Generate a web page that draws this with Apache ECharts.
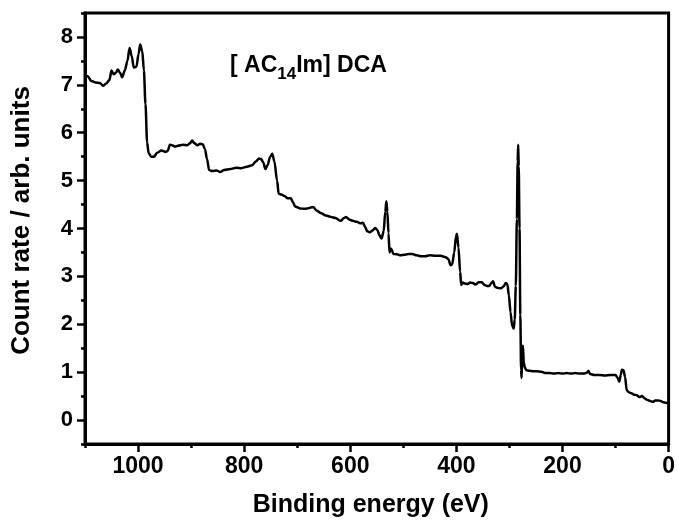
<!DOCTYPE html>
<html>
<head>
<meta charset="utf-8">
<title>XPS survey spectrum</title>
<script src="https://cdn.jsdelivr.net/npm/echarts@6/dist/echarts.min.js"></script>
<style>
  html, body { margin: 0; padding: 0; background: #fff; }
  #chart { width: 678px; height: 523px; }
</style>
</head>
<body>
<div id="chart"></div>
<script>
// Survey spectrum: binding energy (eV) and count rate (arb. units)
const energy = [
  1100, 1095, 1088, 1080, 1072, 1066, 1060, 1054, 1050, 1046, 1042, 1038, 1034, 1030, 1025, 1020,
  1016, 1012, 1008, 1003, 999, 996, 992, 989, 986, 983, 980, 975, 970, 964, 956, 948,
  944, 940, 936, 930, 925, 915, 907, 902, 898, 894, 888, 883, 878, 874, 870, 866,
  860, 852, 845, 838, 826, 815, 805, 795, 785, 778, 772, 768, 764, 760, 756, 751,
  747, 743, 738, 735, 730, 724, 718, 712, 708, 704, 695, 685, 677, 670, 663, 655,
  646, 636, 628, 618, 612, 608, 602, 595, 588, 580, 576, 572, 568, 563, 558, 553,
  549, 545, 541, 537, 534, 532, 530, 528, 526, 524, 522, 519, 512, 505, 498, 490,
  483, 475, 467, 459, 450, 440, 430, 420, 415, 411, 408, 404, 401, 399, 396, 393,
  391, 388, 384, 379, 374, 369, 364, 358, 352, 347, 342, 338, 334, 331, 327, 322,
  316, 311, 307, 304, 301, 298, 295, 292, 290, 288, 286, 284.5, 283.5, 282.5, 281, 279.5,
  278, 277, 275.5, 274.5, 273, 271, 268, 262, 255, 248, 240, 232, 224, 216, 208, 200,
  192, 184, 176, 168, 160, 154, 151, 148, 140, 130, 120, 110, 100, 96, 93, 90,
  88, 85, 82, 79, 75, 70, 65, 60, 55, 50, 45, 40, 35, 30, 25, 20,
  15, 10, 5, 0
];
const countRate = [
  7.20, 7.18, 7.08, 7.05, 7.04, 6.98, 7.03, 7.10, 7.30, 7.22, 7.25, 7.32, 7.25, 7.16, 7.30, 7.50,
  7.77, 7.60, 7.36, 7.38, 7.65, 7.84, 7.70, 7.30, 6.60, 5.80, 5.57, 5.50, 5.50, 5.58, 5.63, 5.60,
  5.62, 5.75, 5.74, 5.71, 5.73, 5.75, 5.74, 5.78, 5.84, 5.78, 5.74, 5.77, 5.76, 5.66, 5.45, 5.22,
  5.20, 5.21, 5.18, 5.22, 5.24, 5.27, 5.26, 5.29, 5.32, 5.40, 5.46, 5.45, 5.38, 5.24, 5.32, 5.50,
  5.56, 5.40, 5.00, 4.73, 4.71, 4.68, 4.63, 4.63, 4.55, 4.46, 4.42, 4.41, 4.43, 4.45, 4.37, 4.32,
  4.27, 4.24, 4.22, 4.16, 4.22, 4.24, 4.19, 4.16, 4.14, 4.11, 4.12, 4.03, 3.94, 3.92, 3.96, 4.01,
  3.97, 3.86, 3.79, 3.95, 4.35, 4.57, 4.35, 3.90, 3.50, 3.58, 3.56, 3.47, 3.46, 3.44, 3.45, 3.47,
  3.47, 3.44, 3.42, 3.42, 3.44, 3.43, 3.43, 3.40, 3.36, 3.23, 3.25, 3.50, 3.82, 3.89, 3.60, 3.10,
  2.82, 2.87, 2.85, 2.84, 2.87, 2.86, 2.83, 2.88, 2.88, 2.82, 2.80, 2.80, 2.86, 2.90, 2.78, 2.76,
  2.75, 2.79, 2.86, 2.84, 2.60, 2.25, 1.98, 1.91, 2.10, 2.80, 4.20, 5.40, 5.75, 5.30, 4.00, 2.20,
  1.05, 0.88, 1.50, 1.55, 1.20, 1.10, 1.04, 1.03, 1.02, 1.02, 1.01, 0.98, 0.98, 0.97, 0.98, 0.97,
  0.98, 0.97, 0.98, 0.97, 0.97, 0.99, 1.03, 0.96, 0.94, 0.94, 0.93, 0.94, 0.94, 0.88, 0.80, 0.95,
  1.05, 1.04, 0.90, 0.62, 0.58, 0.56, 0.53, 0.52, 0.48, 0.50, 0.45, 0.42, 0.40, 0.38, 0.41, 0.41,
  0.40, 0.37, 0.36, 0.35
];
const xMajorTicks = [0, 200, 400, 600, 800, 1000];
const xMinorTicks = [100, 300, 500, 700, 900, 1100];
const yMajorTicks = [0, 1, 2, 3, 4, 5, 6, 7, 8];
const yMinorTicks = [-0.5, 0.5, 1.5, 2.5, 3.5, 4.5, 5.5, 6.5, 7.5, 8.5];

const FONT = '"Liberation Sans", Arial, Helvetica, sans-serif';
const points = energy.map((e, i) => [e, countRate[i]]);
const plain = v => String(v);

const chart = echarts.init(document.getElementById('chart'), null, { renderer: 'canvas' });

const xBase = { type: 'value', min: 0, max: 1100, inverse: true, position: 'bottom', splitLine: { show: false } };
const yBase = { type: 'value', min: -0.5, max: 8.5, position: 'left', splitLine: { show: false } };

chart.setOption({
  animation: false,
  backgroundColor: '#fff',
  title: {
    text: '{a|[ AC}{s|14}{a|Im] DCA}',
    left: 230,
    top: 49,
    padding: 0,
    textStyle: {
      rich: {
        a: { fontFamily: FONT, fontSize: 23, fontWeight: 'bold', color: '#000', lineHeight: 34, verticalAlign: 'middle' },
        s: { fontFamily: FONT, fontSize: 17, fontWeight: 'bold', color: '#000', lineHeight: 17, verticalAlign: 'bottom' }
      }
    }
  },
  grid: {
    left: 85, right: 6, top: 13, bottom: 72,
    show: true, borderColor: '#000', borderWidth: 3, backgroundColor: 'transparent'
  },
  xAxis: [
    Object.assign({}, xBase, {
      name: 'Binding energy (eV)',
      nameLocation: 'middle',
      nameGap: 49,
      nameTextStyle: { fontFamily: FONT, fontSize: 25, fontWeight: 'bold', color: '#000', padding: [0, 12, 0, 0] },
      axisLine: { show: true, onZero: false, lineStyle: { color: '#000', width: 3 } },
      axisTick: { show: true, inside: false, length: 8, customValues: xMajorTicks, lineStyle: { color: '#000', width: 2.5 } },
      axisLabel: { show: true, customValues: xMajorTicks, formatter: plain, margin: 11, fontFamily: FONT, fontSize: 23, fontWeight: 'bold', color: '#000' }
    }),
    Object.assign({}, xBase, {
      axisLine: { show: false, onZero: false },
      axisTick: { show: true, inside: false, length: 4, customValues: xMinorTicks, lineStyle: { color: '#000', width: 2.5 } },
      axisLabel: { show: false }
    })
  ],
  yAxis: [
    Object.assign({}, yBase, {
      name: 'Count rate / arb. units',
      nameLocation: 'middle',
      nameGap: 50,
      nameTextStyle: { fontFamily: FONT, fontSize: 26, fontWeight: 'bold', color: '#000', padding: [0, 0, 0, 16] },
      axisLine: { show: true, onZero: false, lineStyle: { color: '#000', width: 3 } },
      axisTick: { show: true, inside: false, length: 8, customValues: yMajorTicks, lineStyle: { color: '#000', width: 2.5 } },
      axisLabel: { show: true, customValues: yMajorTicks, formatter: plain, margin: 12, fontFamily: FONT, fontSize: 22, fontWeight: 'bold', color: '#000' }
    }),
    Object.assign({}, yBase, {
      axisLine: { show: false, onZero: false },
      axisTick: { show: true, inside: false, length: 4, customValues: yMinorTicks, lineStyle: { color: '#000', width: 2.5 } },
      axisLabel: { show: false }
    })
  ],
  series: [{
    type: 'line',
    xAxisIndex: 0,
    yAxisIndex: 0,
    data: points,
    showSymbol: false,
    smooth: 0.3,
    smoothMonotone: 'x',
    clip: true,
    lineStyle: { color: '#000', width: 2.5 }
  }]
});
</script>
</body>
</html>
